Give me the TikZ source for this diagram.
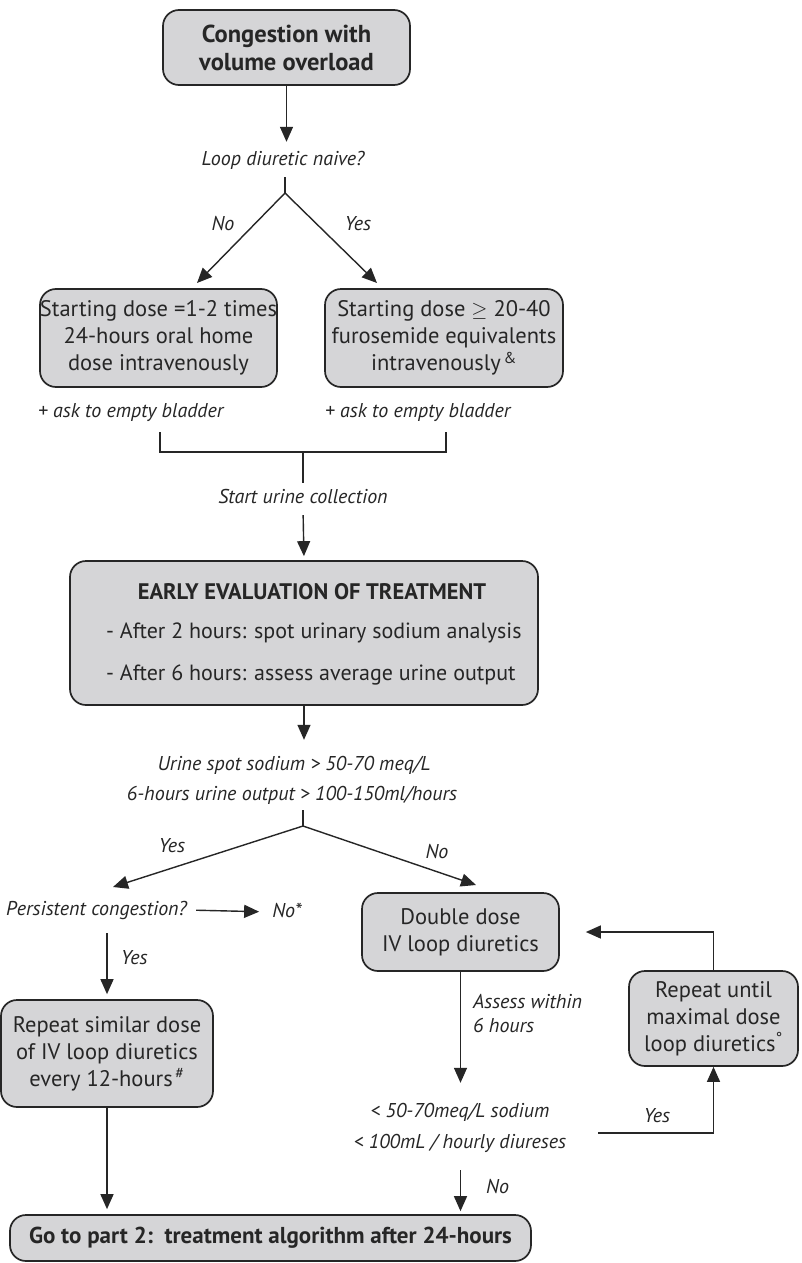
\documentclass[tikz,border=0pt]{standalone}
\usepackage{fontspec}
\setmainfont{PT Sans}
\usetikzlibrary{arrows.meta,calc}
\definecolor{boxfill}{HTML}{D5D5D7}
\definecolor{ink}{HTML}{262626}
\tikzset{
  box/.style={draw=ink, line width=1.7pt, fill=boxfill, rounded corners=16pt, align=center, inner sep=0pt,
    font=\fontsize{22.5}{27}\selectfont, text=ink},
  bt/.style={inner sep=0pt, text=ink, font=\fontsize{22}{27}\selectfont},
  lbl/.style={inner sep=0pt, font=\fontsize{20}{24}\selectfont\itshape, text=ink, text height=15pt, text depth=5pt},
  arr/.style={draw=ink, line width=1.4pt, -{Triangle[length=15pt,width=13pt]}},
  ln/.style={draw=ink, line width=1.4pt},
}
\begin{document}
\begin{tikzpicture}[x=1pt,y=-1pt]
\useasboundingbox[fill=white] (0,0) rectangle (801,1263);

% boxes
\node[box, minimum width=247pt, minimum height=75pt, font=\fontsize{24.5}{28}\selectfont\bfseries] (top) at (286.5,47.5) {Congestion with\\volume overload};
\node[box, minimum width=237pt, minimum height=98pt] (left) at (158.5,338) {Starting dose =1-2 times\\24-hours oral home\\dose intravenously};
\node[box, minimum width=238pt, minimum height=98pt] (right) at (444,338) {Starting dose $\geq$ 20-40\\furosemide equivalents\\intravenously\textsuperscript{\,\&}};
\node[box, minimum width=468pt, minimum height=144pt] (early) at (304,633) {};
\node[bt, font=\fontsize{22.5}{27}\selectfont\bfseries] (earlyt) at (312,592) {EARLY EVALUATION OF TREATMENT};
\node[bt, anchor=west] (earlya) at (106,633) {- After 2 hours: spot urinary sodium analysis};
\node[bt, anchor=west] (earlyb) at (106,675) {- After 6 hours: assess average urine output};
\node[box, minimum width=197pt, minimum height=78pt] (double) at (460.5,932) {Double dose\\IV loop diuretics};
\node[box, minimum width=169pt, minimum height=95pt] (repmax) at (713.5,1018.5) {Repeat until\\maximal dose\\loop diuretics\textsuperscript{\textdegree}};
\node[box, minimum width=212pt, minimum height=107pt] (repsim) at (107,1053.5) {Repeat similar dose\\of IV loop diuretics\\every 12-hours\textsuperscript{\,\#}};
\node[box, minimum width=521pt, minimum height=46pt, font=\fontsize{23}{26}\selectfont\bfseries] (go) at (270.5,1238) {Go to part 2:\ \ treatment algorithm after 24-hours};

% labels
\node[lbl] (q1) at (283,160) {Loop diuretic naive?};
\node[lbl] (no1) at (223,225) {No};
\node[lbl] (yes1) at (358,225) {Yes};
\node[lbl, anchor=west] (bladl) at (38,412) {+ ask to empty bladder};
\node[lbl, anchor=west] (bladr) at (325,412) {+ ask to empty bladder};
\node[lbl] (start) at (303,498) {Start urine collection};
\node[lbl] (c1) at (294,765) {Urine spot sodium > 50-70 meq/L};
\node[lbl] (c2) at (292,795) {6-hours urine output > 100-150ml/hours};
\node[lbl] (yes2) at (172,847) {Yes};
\node[lbl] (no2) at (437,853) {No};
\node[lbl, anchor=west] (persist) at (6,910) {Persistent congestion?};
\node[lbl] (nostar) at (287,912) {No*};
\node[lbl, anchor=west] (yes3) at (121,959) {Yes};
\node[lbl, anchor=west] (assess1) at (473,1003) {Assess within};
\node[lbl, anchor=west] (assess2) at (473,1027) {6 hours};
\node[lbl] (c3) at (460,1112) {< 50-70meq/L sodium};
\node[lbl] (c4) at (460,1143) {< 100mL / hourly diureses};
\node[lbl] (yes4) at (657,1117) {Yes};
\node[lbl, anchor=west] (no3) at (486,1188) {No};

% coordinates
\coordinate (apex1) at (285,193);
\coordinate (tipL) at (197,283);
\coordinate (tipR) at (377,283);
\coordinate (brl) at (160,432);
\coordinate (brr) at (446,432);
\coordinate (brm) at (303,452);
\coordinate (apex2) at (303,826);
\coordinate (tipY) at (113,887);
\coordinate (tipN) at (476,885);
\coordinate (yesst) at (598,1133);

% connectors
\draw[arr, shorten >=8pt] (top.south) -- (top.south |- q1.north);
\draw[ln, shorten <=7pt] (q1.south -| apex1) -- (apex1);
\draw[arr] (apex1) -- (tipL);
\draw[arr] (apex1) -- (tipR);
\draw[ln] (brl) -- (brl |- brm) -- (brr |- brm) -- (brr);
\draw[ln, shorten >=5pt] (brm) -- (brm |- start.north);
\draw[arr, shorten <=7pt, shorten >=4pt] (start.south -| brm) -- (early.north);
\draw[arr, shorten >=15pt] (early.south) -- (early.south |- c1.north);
\draw[ln, shorten <=5pt] (c2.south -| apex2) -- (apex2);
\draw[arr] (apex2) -- (tipY);
\draw[arr] (apex2) -- (tipN);
\draw[arr, shorten <=9pt, shorten >=13pt] (persist.east) -- (nostar.west);
\draw[arr, shorten <=13pt, shorten >=5pt] (repsim.north |- persist.south) -- (repsim.north);
\draw[arr, shorten >=5pt] (repsim.south) -- (repsim.south |- go.north);
\draw[arr, shorten >=19pt] (double.south) -- (double.south |- c3.north);
\draw[arr, shorten <=17pt, shorten >=3pt] (c4.south -| double.south) -- (double.south |- go.north);
\draw[arr] (yesst) -| (repmax.south);
\draw[arr, shorten >=26pt] (repmax.north) |- (double.east);
\end{tikzpicture}
\end{document}
